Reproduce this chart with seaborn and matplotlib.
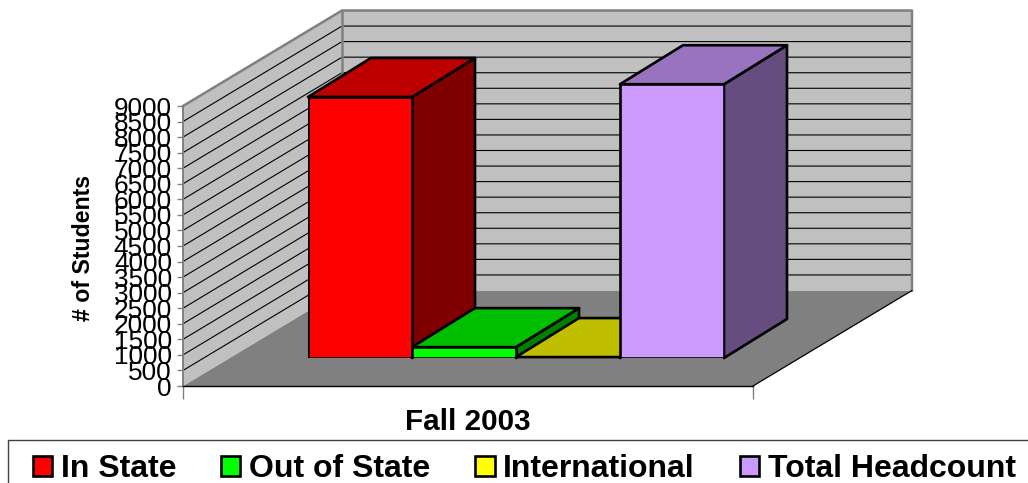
import matplotlib
matplotlib.use('Agg')
import matplotlib.pyplot as plt
import matplotlib.colors as mcolors
from matplotlib.patches import Polygon, Rectangle
import seaborn as sns
import pandas as pd

# valores
categorias = ['In State', 'Out of State', 'International', 'Total Headcount']
estudiantes = [8390, 350, 30, 8800]
colores = ['#FF0000', '#00FF00', '#FFFF00', '#CC99FF']
ticks_y = list(range(0, 9500, 500))

W, H = 1028, 483
DX_PARED, DY_PARED = 159, -95.5   # profundidad de las paredes
DX_BARRA, DY_BARRA = 63, -39      # profundidad de las barras

sns.set_theme(style='white')
plt.rcParams['font.family'] = ['Liberation Sans', 'DejaVu Sans']

fig = plt.figure(figsize=(W / 100, H / 100), dpi=100)


def caja(x0, y_base, ancho, alto):
    return [x0 / W, (H - y_base) / H, ancho / W, alto / H]


# fondo en pixeles para las caras del 3D
fondo = fig.add_axes([0, 0, 1, 1], zorder=0)
fondo.set_xlim(0, W)
fondo.set_ylim(H, 0)
fondo.axis('off')

# eje de valores
eje = fig.add_axes(caja(183, 386, 570, 280), zorder=2)
eje.patch.set_alpha(0)
eje.set_xlim(0, 1)
eje.set_ylim(0, 9000)
eje.set_yticks(ticks_y)
eje.set_xticks([0, 1])
eje.set_xticklabels(['', ''])
eje.tick_params(axis='y', length=4.5, width=1, color='#808080', labelsize=18.8, pad=3.5, left=True, labelcolor='black')
eje.tick_params(axis='x', length=9, width=1, color='#808080', bottom=True)
eje.set_xlabel('Fall 2003', fontsize=21.3, fontweight='bold', color='black', labelpad=3.6)
for lado in ['top', 'right']:
    eje.spines[lado].set_visible(False)
eje.spines['left'].set_color('#808080')
eje.spines['left'].set_linewidth(1.4)
eje.spines['bottom'].set_color('black')
eje.spines['bottom'].set_linewidth(1)
fig.text(84 / W, 1 - 248 / H, '# of Students', rotation=90, fontsize=16.7, fontweight='bold',
         color='black', ha='center', va='center')

# barras frontales
barras = fig.add_axes(caja(308, 358, 416, 280), zorder=1)
barras.patch.set_alpha(0)
tabla = pd.DataFrame({'categoria': categorias, 'estudiantes': estudiantes})
sns.barplot(data=tabla, x='categoria', y='estudiantes', hue='categoria', palette=colores,
            width=1.0, dodge=False, edgecolor='black', linewidth=1.9, saturation=1,
            legend=True, ax=barras)
barras.set_xlim(-0.5, 3.5)
barras.set_ylim(0, 9000)
manijas, textos = barras.get_legend_handles_labels()
barras.get_legend().remove()
barras.axis('off')
fig.canvas.draw()

# paredes y piso
x0 = 183
x1 = 753
y0 = H - eje.transData.transform((0, 0))[1]
y_arriba = H - eje.transData.transform((0, 9000))[1]
fondo.add_patch(Polygon([(x0, y0), (x1, y0), (x1 + DX_PARED, y0 + DY_PARED), (x0 + DX_PARED, y0 + DY_PARED)],
                        facecolor='#808080', edgecolor='none', zorder=1))
fondo.add_patch(Polygon([(x0, y0), (x0 + DX_PARED, y0 + DY_PARED), (x0 + DX_PARED, y_arriba + DY_PARED), (x0, y_arriba)],
                        facecolor='#C0C0C0', edgecolor='none', zorder=1))
fondo.add_patch(Polygon([(x0 + DX_PARED, y0 + DY_PARED), (x1 + DX_PARED, y0 + DY_PARED),
                         (x1 + DX_PARED, y_arriba + DY_PARED), (x0 + DX_PARED, y_arriba + DY_PARED)],
                        facecolor='#C0C0C0', edgecolor='none', zorder=1))
for t in ticks_y[1:-1]:
    y = H - eje.transData.transform((0, t))[1]
    fondo.plot([x0, x0 + DX_PARED, x1 + DX_PARED], [y, y + DY_PARED, y + DY_PARED], color='black', lw=0.8, zorder=2)
gris = dict(color='#808080', lw=1.8, solid_capstyle='projecting', zorder=2)
fondo.plot([x0, x0 + DX_PARED, x1 + DX_PARED, x1 + DX_PARED],
           [y_arriba, y_arriba + DY_PARED, y_arriba + DY_PARED, y0 + DY_PARED], **gris)
fondo.plot([x0 + DX_PARED, x0 + DX_PARED], [y_arriba + DY_PARED, y0 + DY_PARED], **gris)
fondo.plot([x1, x1 + DX_PARED], [y0, y0 + DY_PARED], color='black', lw=0.9, zorder=2)

# caras superior y lateral de cada barra, sacadas de las barras de seaborn
for barra, color in zip(barras.patches, colores):
    (xa, ya), (xb, yb) = barras.transData.transform(barra.get_bbox().get_points())
    ya, yb = H - ya, H - yb
    rgb = mcolors.to_rgb(color)
    lateral = tuple(c * 0.5 for c in rgb)
    superior = tuple(c * 0.75 for c in rgb)
    fondo.add_patch(Polygon([(xb, ya), (xb + DX_BARRA, ya + DY_BARRA), (xb + DX_BARRA, yb + DY_BARRA), (xb, yb)],
                            facecolor=lateral, edgecolor='black', lw=1.9, joinstyle='round', zorder=3))
    fondo.add_patch(Polygon([(xa, yb), (xb, yb), (xb + DX_BARRA, yb + DY_BARRA), (xa + DX_BARRA, yb + DY_BARRA)],
                            facecolor=superior, edgecolor='black', lw=1.9, joinstyle='round', zorder=3))

# leyenda con su marco cortado por la figura
fondo.add_patch(Rectangle((8, 440), W, 60, facecolor='white', edgecolor='#404040', lw=1, clip_on=False, zorder=1))
fig.legend(manijas, textos, loc='center left', bbox_to_anchor=(33 / W, 1 - 469 / H), ncol=4, frameon=False,
           prop={'size': 23, 'weight': 'bold'}, labelcolor='black', borderpad=0, borderaxespad=0,
           handlelength=0.6, handleheight=0.6, handletextpad=0.27, columnspacing=1.41)

fig.savefig('out.png', dpi=100, facecolor='white')
